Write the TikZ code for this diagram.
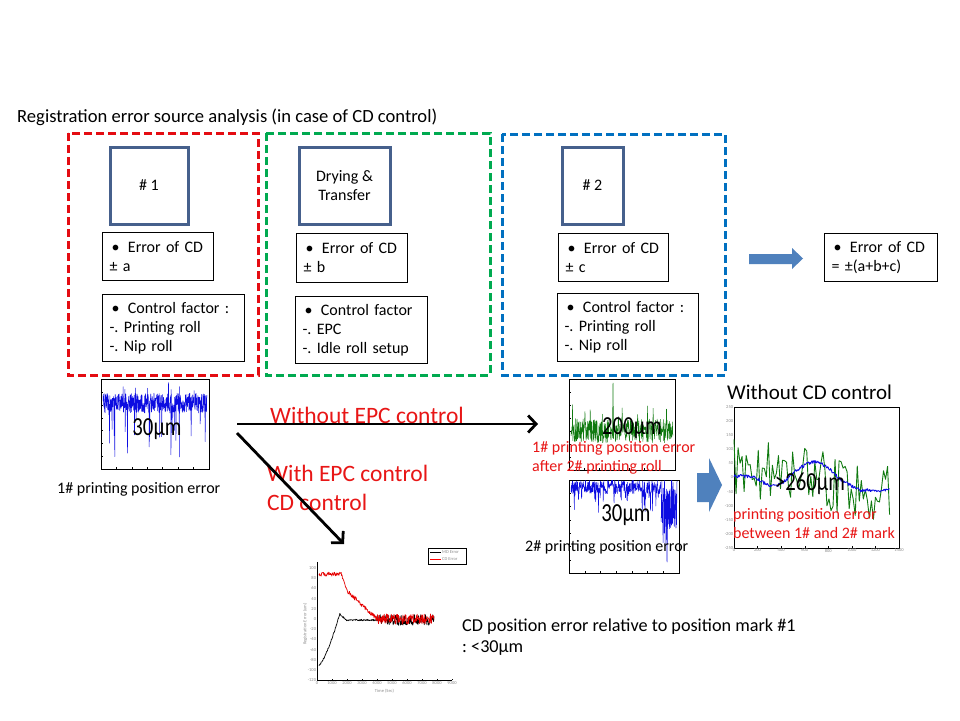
\documentclass[tikz,border=0pt]{standalone}
\usepackage{fontspec}
\setmainfont{Carlito}
\usepackage{graphicx}
\usetikzlibrary{positioning,arrows.meta}
\definecolor{zonered}{RGB}{228,12,18}
\definecolor{zonegreen}{RGB}{0,170,80}
\definecolor{zoneblue}{RGB}{0,112,192}
\definecolor{stationblue}{RGB}{70,96,140}
\definecolor{arrowblue}{RGB}{79,129,189}
\definecolor{labelred}{RGB}{232,22,22}
\definecolor{tracegreen}{RGB}{16,122,16}
\definecolor{traceblue}{RGB}{12,12,225}
\newcommand\fsz[2]{\fontsize{#1}{#2}\selectfont}
\newcommand\bigval[1]{\scalebox{0.8}[1]{#1}}
\newcommand\bul{\hspace*{2pt}•\hspace{8.5pt}}
\frenchspacing
\begin{document}
\begin{tikzpicture}[x=1pt, y=-1pt,
    zone/.style={line width=3pt, dash pattern=on 8pt off 4pt},
    station/.style={draw=stationblue, line width=3pt, align=center,
      minimum height=77pt, inner sep=0pt, font=\fsz{16}{18.5}},
    infobox/.style={draw, line width=1pt, anchor=north west, align=left,
      inner xsep=7pt, inner ysep=2pt, font=\fsz{16}{19}},
    valuelabel/.style={font=\fsz{26}{26}, inner sep=0pt},
    textlabel/.style={anchor=west, align=left, inner sep=0pt, font=\fsz{16}{19}},
    redlabel/.style={textlabel, text=labelred},
    flowlabel/.style={anchor=west, align=left, inner sep=0pt, text=labelred, font=\fsz{23.5}{29}},
    plotframe/.style={draw, line width=0.6pt},
    trace/.style={line width=0.5pt, line join=round},
    ticklabel/.style={font=\fsz{4.5}{5}, text=black!45, inner sep=0.8pt},
    blockarrow/.style={fill=arrowblue, draw=none},
    flow/.style={line width=2.8pt, -{Straight Barb[length=8pt,width=17pt]}},
    declare function={bump(\x,\c,\w)=(abs(\x-\c)<\w)*(1+cos(180/\w*(\x-\c)))/2;
      blueshape(\x)=5-35*bump(\x,330,200)+50*bump(\x,680,260)-25*(1+min(max((\x-950)/120,-1),1));}]
  \fill[white] (0,0) rectangle (960,720);
  \useasboundingbox (0,0) rectangle (960,720);
  \pgfmathsetseed{42}

  \node[textlabel, font=\fsz{18.6}{22}] (title) at (17,117) {Registration error source analysis (in case of CD control)};

  \draw[zone, zonered] (68,133) rectangle (258,375);
  \draw[zone, zonegreen] (266,133) rectangle (490,375);
  \draw[zone, zoneblue] (502,134) rectangle (725,375);

  \node[station, minimum width=78pt] (st1) at (149,185.5) {\# 1};
  \node[station, minimum width=91pt] (st2) at (344.5,185.5) {Drying \&\\Transfer};
  \node[station, minimum width=61pt] (st3) at (592.5,185.5) {\# 2};

  \node[infobox, text width=97pt, minimum height=48pt] (err1) at (102,232) {\bul Error of CD\\± a};
  \node[infobox, text width=128pt, minimum height=67pt] (ctl1) at (102,294) {\bul Control factor :\\-. Printing roll\\-. Nip roll};
  \node[infobox, text width=97pt, minimum height=49pt] (err2) at (296,233) {\bul Error of CD\\± b};
  \node[infobox, text width=118pt, minimum height=67pt] (ctl2) at (295,296) {\bul Control factor\\-. EPC\\-. Idle roll setup};
  \node[infobox, text width=96pt, minimum height=48pt] (err3) at (558,233) {\bul Error of CD\\± c};
  \node[infobox, text width=127pt, minimum height=68pt] (ctl3) at (557,293) {\bul Control factor :\\-. Printing roll\\-. Nip roll};
  \node[infobox, text width=99pt, minimum height=48pt] (total) at (824,233) {\bul Error of CD\\= ±(a+b+c)};

  \fill[blockarrow] (749,254) -- (792,254) -- (792,248) -- (803,258.5) -- (792,269) -- (792,264) -- (749,264) -- cycle;

  % 1# printing position error
  \draw[plotframe] (101,379) rectangle (209,469);
  \foreach \k in {1,...,6}
    \draw[line width=0.3pt] (101,379+\k*12.9) -- ++(2,0) (101+\k*15.4,469) -- ++(0,-2);
  \draw[trace, traceblue] plot[domain=103:207, samples=460] (\x,{403+10*rand+(rnd>0.94)*(10+40*rnd)-(rnd>0.95)*(6+8*rnd)});
  \node[valuelabel] (valA) at (157,429) {\bigval{30μm}};
  \node[textlabel] (capA) at (57,489) {1\# printing position error};

  % after 2# printing roll
  \draw[plotframe] (569,379) rectangle (675,470);
  \foreach \k in {1,...,6}
    \draw[line width=0.3pt] (569,379+\k*13) -- ++(2,0) (569+\k*15.1,470) -- ++(0,-2);
  \draw[trace, tracegreen] plot[domain=571:673, samples=330] (\x,{431+12*rand-(rnd>0.95)*(8+14*rnd)});
  \draw[trace, tracegreen] (612.5,430) -- (613,383) -- (613.5,431);
  \node[valuelabel] (valB) at (632,428) {\bigval{200μm}};

  % 2# printing position error
  \draw[plotframe] (569,480) rectangle (679,573);
  \foreach \k in {1,...,6}
    \draw[line width=0.3pt] (569,480+\k*13.3) -- ++(2,0) (569+\k*15.7,573) -- ++(0,-2);
  \begin{scope}
    \clip (569,480) rectangle (679,573);
    \draw[trace, traceblue] plot[domain=571:661, samples=300] (\x,{487+7*rand+(rnd>0.85)*(6+16*rnd)});
    \draw[trace, traceblue] plot[domain=661:677, samples=80] (\x,{505+25*rand+(rnd>0.9)*20*rnd});
    \draw[trace, traceblue] (666.5,520) -- (667,562) -- (667.5,525);
  \end{scope}
  \node[valuelabel] (valC) at (626,515) {\bigval{30μm}};

  \node[redlabel] (capB) at (532,458) {1\# printing position error\\after 2\# printing roll};
  \node[textlabel] (capC) at (525,547) {2\# printing position error};

  \fill[blockarrow] (697,473) -- (709,473) -- (709,458) -- (722,485) -- (709,512) -- (709,502) -- (697,502) -- cycle;

  % without CD control
  \node[textlabel, font=\fsz{21}{24}] (titleD) at (727,392) {Without CD control};
  \begin{scope}[shift={(734,477.5)}, x=0.11786pt, y=0.282pt]
    \draw[plotframe] (0,-250) rectangle (1400,250);
    \foreach \yv in {-250,-200,...,250}
      \draw[line width=0.3pt] (0,\yv) -- ++(12,0) node[pos=0, anchor=east, ticklabel] {\yv};
    \foreach \xv in {0,200,...,1400}
      \draw[line width=0.3pt] (\xv,-250) -- ++(0,6) node[pos=0, anchor=north, ticklabel] {\xv};
    \draw[trace, tracegreen, line width=0.9pt] plot[domain=0:1320, samples=78] (\x,{45-0.075*\x+105*rand});
    \draw[trace, traceblue, line width=0.9pt] plot[domain=0:1320, samples=220] (\x,{blueshape(\x)+6*rand});
  \end{scope}
  \node[valuelabel] (valD) at (810,484) {\bigval{>260μm}};
  \node[redlabel] (capD) at (733,524) {printing position error\\between 1\# and 2\# mark};

  % CD control result
  \begin{scope}[shift={(317,619)}, x=0.015pt, y=0.51pt]
    \draw[plotframe] (0,112) -- (0,-120) -- (9000,-120);
    \foreach \yv in {-120,-100,...,100}
      \draw[line width=0.3pt] (0,\yv) -- ++(80,0) node[pos=0, anchor=east, ticklabel] {\yv};
    \foreach \xv in {0,1000,...,9000}
      \draw[line width=0.3pt] (\xv,-120) -- ++(0,3) node[pos=0, anchor=north, ticklabel] {\xv};
    \node[ticklabel] (axisx) at (4500,-142) {Time (Sec)};
    \node[ticklabel, rotate=90] (axisy) at (-800,-10) {Registration Error (um)};
    \draw[trace, line width=0.7pt] plot[domain=131:7800, samples=260] (\x,{(\x<1530)*(-90+102*((\x-130)/1400)^1.4)+(\x>=1530)*(12*max(0,1-(\x-1530)/400)-2)+(1.5+9*(\x>4000))*rand});
    \draw[trace, red!90!black, line width=0.7pt] plot[domain=130:7800, samples=260] (\x,{max(0,min(88,(4000-\x)/2000*55+0.066*max(0,2000-\x)))+(4+6*(\x>4000))*rand});
  \end{scope}
  \node[draw, line width=0.4pt, anchor=north west, minimum width=38pt, minimum height=16pt, inner sep=0pt] (legend) at (428,548) {};
  \draw[line width=0.7pt] (430,552.5) -- (441,552.5) node[right, ticklabel] {MD Error};
  \draw[line width=0.7pt, red] (430,559) -- (441,559) node[right, ticklabel] {CD Error};
  \node[textlabel, font=\fsz{18.2}{21}] (cdnote) at (462,637.5) {CD position error relative to position mark \#1\\: <30μm};

  \node[flowlabel] (withoutepc) at (270,415) {Without EPC control};
  \node[flowlabel] (withepc) at (267,487.5) {With EPC control\\CD control};
  \coordinate (split) at (237,424);
  \coordinate (splitlow) at (237,433);
  \coordinate (epcoff) at (538,424);
  \coordinate (epcon) at (344,544);
  \draw[flow] (split) -- (epcoff);
  \draw[flow] (splitlow) -- (epcon);
\end{tikzpicture}
\end{document}
